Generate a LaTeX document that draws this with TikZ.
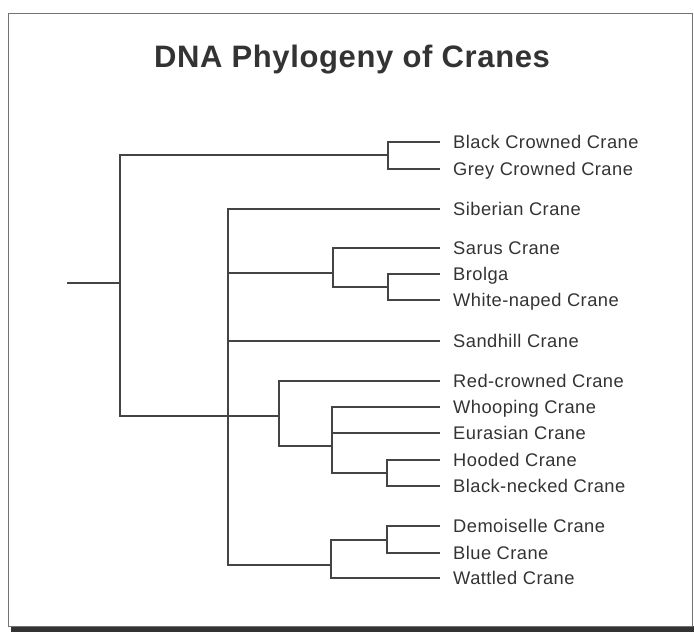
\documentclass[tikz,border=0pt]{standalone}
\usepackage{fontspec}
\setmainfont{Liberation Sans}
\newfontfamily\leaffont{Liberation Sans}[LetterSpace=2.5]
\newfontfamily\titlefont{Liberation Sans}[LetterSpace=2]
\usetikzlibrary{calc}
\definecolor{ink}{HTML}{333333}
\definecolor{branchcol}{HTML}{444444}

\begin{document}
\begin{tikzpicture}[x=1pt, y=-1pt, leaf/.style={anchor=west, inner xsep=13pt, inner ysep=0pt, text height=13pt, text depth=0pt, text=ink, font=\leaffont\fontsize{18.3}{21}\selectfont}, branch/.style={draw=branchcol, line width=1.2pt}]
\useasboundingbox (0,0) rectangle (694,632);
% frame and shadow
\fill[black!80] (11,626) rectangle (694,632);
\draw[black!55, line width=1pt] (8,13) rectangle (692,626);
\node[text=ink, font=\titlefont\bfseries\fontsize{31}{36}\selectfont] (title) at (352,60) {DNA Phylogeny of Cranes};
% species
\node[leaf] (blackcrowned) at (440,142) {Black Crowned Crane};
\node[leaf] (greycrowned) at (440,169) {Grey Crowned Crane};
\node[leaf] (siberian) at (440,209) {Siberian Crane};
\node[leaf] (sarus) at (440,248) {Sarus Crane};
\node[leaf] (brolga) at (440,274) {Brolga};
\node[leaf] (whitenaped) at (440,300) {White-naped Crane};
\node[leaf] (sandhill) at (440,341) {Sandhill Crane};
\node[leaf] (redcrowned) at (440,381) {Red-crowned Crane};
\node[leaf] (whooping) at (440,407) {Whooping Crane};
\node[leaf] (eurasian) at (440,433) {Eurasian Crane};
\node[leaf] (hooded) at (440,460) {Hooded Crane};
\node[leaf] (blacknecked) at (440,486) {Black-necked Crane};
\node[leaf] (demoiselle) at (440,526) {Demoiselle Crane};
\node[leaf] (blue) at (440,553) {Blue Crane};
\node[leaf] (wattled) at (440,578) {Wattled Crane};
% branch points
\coordinate (stub) at (67,283);
\coordinate (root) at (120,283);
\coordinate (crowned) at (388,155);
\coordinate (gruinae) at (228,416);
\coordinate (sarusgrp) at (333,273);
\coordinate (brolgagrp) at (388,287);
\coordinate (redgrp) at (279,416);
\coordinate (whoopgrp) at (332,446);
\coordinate (hoodgrp) at (387,473);
\coordinate (wattledgrp) at (331,565);
\coordinate (bluegrp) at (387,540);
% tree
\draw[branch] (stub) -- (root);
\draw[branch] (root) |- (crowned);
\draw[branch] (root) |- (gruinae);
\draw[branch] (crowned) |- (blackcrowned.west);
\draw[branch] (crowned) |- (greycrowned.west);
\draw[branch] (gruinae) |- (siberian.west);
\draw[branch] (gruinae) |- (sarusgrp);
\draw[branch] (gruinae) |- (sandhill.west);
\draw[branch] (gruinae) -- (redgrp);
\draw[branch] (gruinae) |- (wattledgrp);
\draw[branch] (sarusgrp) |- (sarus.west);
\draw[branch] (sarusgrp) |- (brolgagrp);
\draw[branch] (brolgagrp) |- (brolga.west);
\draw[branch] (brolgagrp) |- (whitenaped.west);
\draw[branch] (redgrp) |- (redcrowned.west);
\draw[branch] (redgrp) |- (whoopgrp);
\draw[branch] (whoopgrp) |- (whooping.west);
\draw[branch] (whoopgrp) |- (eurasian.west);
\draw[branch] (whoopgrp) |- (hoodgrp);
\draw[branch] (hoodgrp) |- (hooded.west);
\draw[branch] (hoodgrp) |- (blacknecked.west);
\draw[branch] (wattledgrp) |- (bluegrp);
\draw[branch] (wattledgrp) |- (wattled.west);
\draw[branch] (bluegrp) |- (demoiselle.west);
\draw[branch] (bluegrp) |- (blue.west);
\end{tikzpicture}
\end{document}
